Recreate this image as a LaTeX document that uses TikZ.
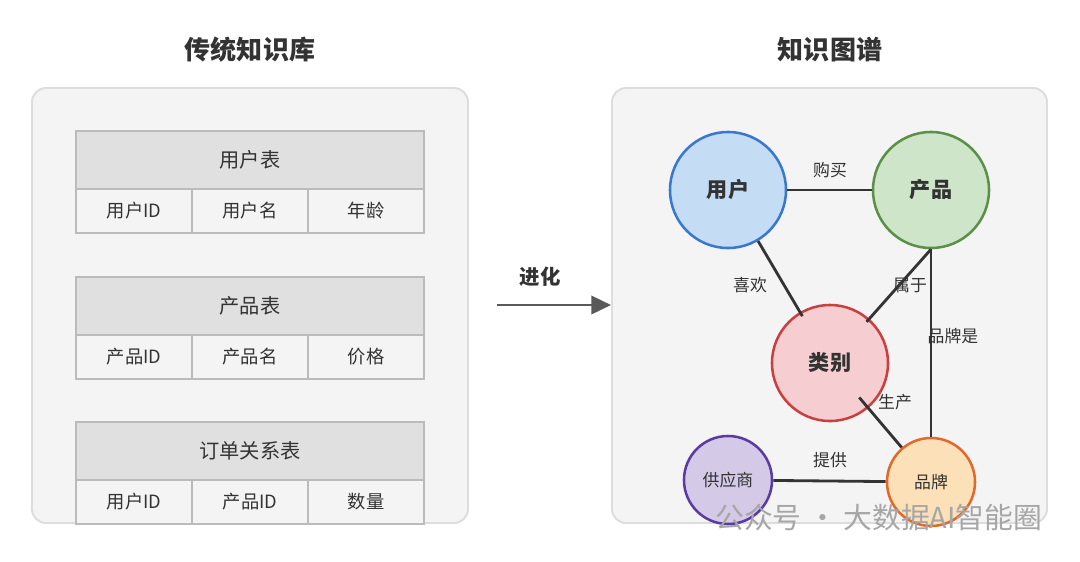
\documentclass[tikz,border=0pt]{standalone}
\usepackage{fontspec}
\setmainfont{Noto Sans CJK SC}
\usetikzlibrary{arrows.meta}
\definecolor{panel}{HTML}{F4F4F4}
\definecolor{panelb}{HTML}{DDDDDD}
\definecolor{hdr}{HTML}{E0E0E0}
\definecolor{cellb}{HTML}{BBBBBB}
\definecolor{txt}{HTML}{333333}
\definecolor{uf}{HTML}{C5DCF5}\definecolor{ud}{HTML}{3A78D0}
\definecolor{pf}{HTML}{CFE5C9}\definecolor{pd}{HTML}{5A9048}
\definecolor{cf}{HTML}{F6CDD0}\definecolor{cd}{HTML}{C84040}
\definecolor{sf}{HTML}{D5C9E8}\definecolor{sd}{HTML}{5A3CA0}
\definecolor{bf}{HTML}{FCE0B8}\definecolor{bd}{HTML}{E06A2C}
\begin{document}
\begin{tikzpicture}[x=0.025cm,y=-0.025cm,
  panelst/.style={fill=panel,draw=panelb,line width=1.4pt,rounded corners=10pt},
  title/.style={font=\bfseries\fontsize{18.5}{22}\selectfont,text=txt},
  hcell/.style={draw=cellb,fill=hdr,line width=0.9pt},
  rcell/.style={draw=cellb,fill=panel,line width=0.9pt},
  ct/.style={font=\fontsize{13}{15}\selectfont,text=txt},
  ent/.style={circle,line width=1.8pt,inner sep=0pt,minimum size=2.9cm,font=\bfseries\fontsize{15}{17}\selectfont,text=txt},
  sent/.style={ent,minimum size=2.2cm,font=\fontsize{12}{14}\selectfont},
  rel/.style={line width=2pt,draw=txt},
  lab/.style={font=\fontsize{12}{14}\selectfont,text=txt}]
\useasboundingbox (0,0) rectangle (1080,561);
\node[title] (t1) at (250,50) {传统知识库};
\node[title] (t2) at (830,50) {知识图谱};
\draw[panelst] (32,88) rectangle (468,523);
\draw[panelst] (612,88) rectangle (1047,523);
% tables
\foreach \y/\h/\a/\b/\c in {131/用户表/用户ID/用户名/年龄, 277/产品表/产品ID/产品名/价格, 422/订单关系表/用户ID/产品ID/数量}{
  \draw[hcell] (76,\y) rectangle (424,\y+58);
  \node[ct,font=\fontsize{14.4}{16}\selectfont] at (250,\y+29) {\h};
  \draw[rcell] (76,\y+58) rectangle (192,\y+102);
  \draw[rcell] (192,\y+58) rectangle (308,\y+102);
  \draw[rcell] (308,\y+58) rectangle (424,\y+102);
  \node[ct] at (134,\y+80) {\a};
  \node[ct] at (250,\y+80) {\b};
  \node[ct] at (366,\y+80) {\c};
}
\fill[white] (30,524.8) rectangle (470,561);
% arrow
\coordinate (as) at (497,305);
\coordinate (ae) at (611,305);
\draw[line width=2pt,draw=black!65,-{Triangle[length=14pt,width=13pt]}] (as) -- (ae);
\node[font=\bfseries\fontsize{14.5}{17}\selectfont,text=txt] (evo) at (540,277) {进化};
% entities
\node[ent,fill=uf,draw=ud] (u) at (728,190) {用户};
\node[ent,fill=pf,draw=pd] (p) at (931,190) {产品};
\node[ent,fill=cf,draw=cd] (c) at (830,363) {类别};
\node[sent,fill=sf,draw=sd] (s) at (728,480) {供应商};
\node[sent,fill=bf,draw=bd] (b) at (931,482) {品牌};
% relations
\draw[rel] (u) -- (p);
\draw[rel,shorten >=-3.5pt] (u) -- (c);
\draw[rel,shorten >=-3pt] (p.south) -- (c);
\draw[rel] (p.south) -- (b.north);
\draw[rel,shorten <=-10pt] (c) -- (b);
\draw[rel] (s) -- (b);
\node[lab] (l1) at (830,170) {购买};
\node[lab] (l2) at (750,285) {喜欢};
\node[lab] (l3) at (910,285) {属于};
\node[lab] (l4) at (953,336) {品牌是};
\node[lab] (l5) at (895,402) {生产};
\node[lab] (l6) at (830,460) {提供};
% watermark
\node[font=\fontsize{20.5}{24}\selectfont,text=black!35,anchor=west,inner sep=0pt] (wm) at (715,517) {公众号 · 大数据AI智能圈};
\end{tikzpicture}
\end{document}
